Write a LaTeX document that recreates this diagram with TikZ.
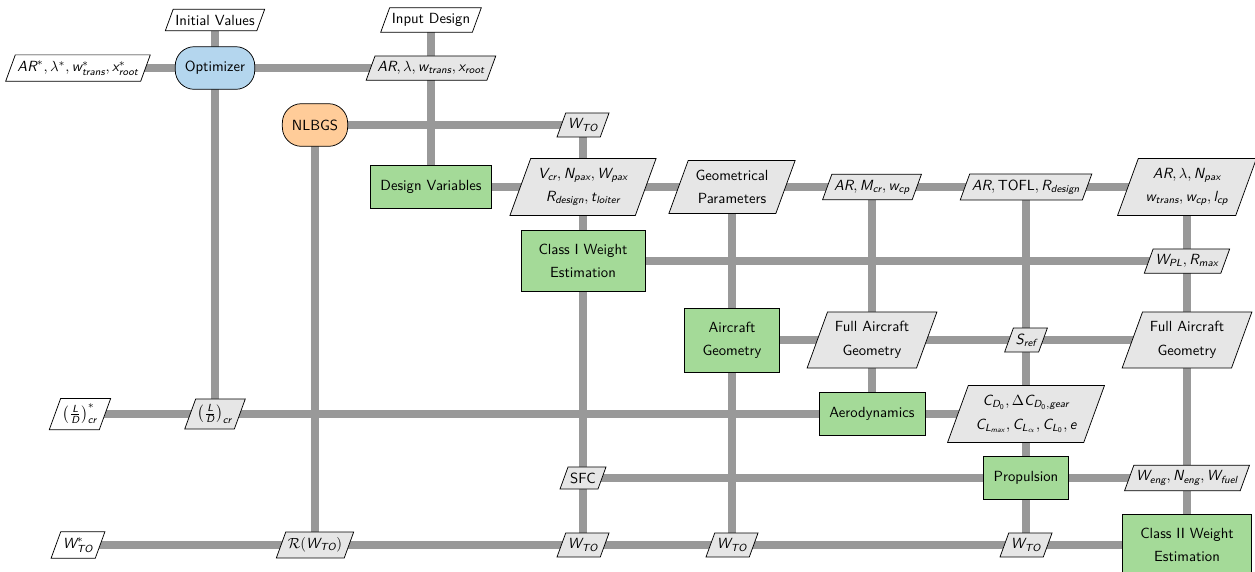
\documentclass[tikz,border=0pt]{standalone}
\usepackage{fontspec}
\usepackage{amsmath}
\usetikzlibrary{shapes.geometric}
\pgfdeclarelayer{background}
\pgfsetlayers{background,main}
\definecolor{optblue}{RGB}{180,214,238}
\definecolor{mdaorange}{RGB}{255,204,153}
\definecolor{fungreen}{RGB}{164,218,152}
\definecolor{datagray}{RGB}{230,230,230}
\definecolor{linegray}{RGB}{153,153,153}
\newcommand\mv[1]{\textit{#1}}
\begin{document}
\begin{tikzpicture}[x=0.68pt,y=-0.68pt,
  base/.style={font=\sffamily\fontsize{10}{15.6}\selectfont, draw=black, line width=0.5pt, align=center},
  optim/.style={base, rectangle, rounded corners=13pt, fill=optblue, minimum height=29pt, inner xsep=6.5pt},
  mda/.style={optim, fill=mdaorange},
  func/.style={base, rectangle, fill=fungreen, minimum height=29pt, inner xsep=7pt, inner ysep=9.5pt},
  ftwo/.style={inner xsep=12pt},
  datain/.style={base, trapezium, trapezium left angle=70, trapezium right angle=110, fill=white, inner xsep=1.5pt, inner ysep=3.8pt},
  dataint/.style={datain, fill=datagray},
  dtwo/.style={inner ysep=6.5pt, inner xsep=5pt, font=\sffamily\fontsize{10}{16}\selectfont},
  dline/.style={draw=linegray, line width=4.8pt}]
\useasboundingbox (0,0) rectangle (1255,571);
% top inputs
\node[datain] (iv) at (215,20) {Initial Values};
\node[datain] (id) at (431,20) {Input Design};
% row 0
\node[datain] (arstar) at (78,68) {$\mv{AR}^*, \lambda^*, \mv{w}^*_{\mv{trans}}, \mv{x}^*_{\mv{root}}$};
\node[optim] (opt) at (215,68) {Optimizer};
\node[dataint] (arlam) at (431,68) {$\mv{AR}, \lambda, \mv{w}_{\mv{trans}}, \mv{x}_{\mv{root}}$};
% row 1
\node[mda] (nlbgs) at (315,125) {NLBGS};
\node[dataint] (wto1) at (583,125) {$\mv{W}_{\mv{TO}}$};
% row 2
\node[func] (dv) at (431,187) {Design Variables};
\node[dataint,dtwo] (vcr) at (583,187) {$\mv{V}_{\mv{cr}}, \mv{N}_{\mv{pax}}, \mv{W}_{\mv{pax}}$\\$\mv{R}_{\mv{design}}, \mv{t}_{\mv{loiter}}$};
\node[dataint,dtwo] (geo) at (732,187) {Geometrical\\Parameters};
\node[dataint] (armcr) at (872,187) {$\mv{AR}, \mv{M}_{\mv{cr}}, \mv{w}_{\mv{cp}}$};
\node[dataint] (artofl) at (1026,187) {$\mv{AR}, \text{TOFL}, \mv{R}_{\mv{design}}$};
\node[dataint,dtwo] (arlnp) at (1187,187) {$\mv{AR}, \lambda, \mv{N}_{\mv{pax}}$\\$\mv{w}_{\mv{trans}}, \mv{w}_{\mv{cp}}, \mv{l}_{\mv{cp}}$};
% row 3
\node[func,ftwo] (cw1) at (583,261) {Class I Weight\\Estimation};
\node[dataint] (wpl) at (1187,261) {$\mv{W}_{\mv{PL}}, \mv{R}_{\mv{max}}$};
% row 4
\node[func,ftwo] (acg) at (732,340) {Aircraft\\Geometry};
\node[dataint,dtwo] (fag1) at (872,340) {Full Aircraft\\Geometry};
\node[dataint] (sref) at (1026,340) {$\mv{S}_{\mv{ref}}$};
\node[dataint,dtwo] (fag2) at (1187,340) {Full Aircraft\\Geometry};
% row 5
\node[datain] (ldstar) at (80,414) {$\left(\frac{\mv{L}}{\mv{D}}\right)^*_{\mv{cr}}$};
\node[dataint] (ldcr) at (215,414) {$\left(\frac{\mv{L}}{\mv{D}}\right)_{\mv{cr}}$};
\node[func] (aero) at (872,414) {Aerodynamics};
\node[dataint,dtwo] (cd0) at (1026,414) {$\mv{C}_{\mv{D}_{\text{0}}}, \Delta \mv{C}_{\mv{D}_{\text{0}},\mv{gear}}$\\$\mv{C}_{\mv{L}_{\mv{max}}}, \mv{C}_{\mv{L}_{\alpha}}, \mv{C}_{\mv{L}_{\text{0}}}, \mv{e}$};
% row 6
\node[dataint] (sfc) at (583,478) {SFC};
\node[func] (prop) at (1026,478) {Propulsion};
\node[dataint] (weng) at (1187,478) {$\mv{W}_{\mv{eng}}, \mv{N}_{\mv{eng}}, \mv{W}_{\mv{fuel}}$};
% row 7
\node[datain] (wstar) at (78,545) {$\mv{W}^*_{\mv{TO}}$};
\node[dataint] (rwto) at (315,545) {$\mathcal{R}(\mv{W}_{\mv{TO}})$};
\node[dataint] (wto4) at (583,545) {$\mv{W}_{\mv{TO}}$};
\node[dataint] (wto5) at (732,545) {$\mv{W}_{\mv{TO}}$};
\node[dataint] (wto7) at (1026,545) {$\mv{W}_{\mv{TO}}$};
\node[func,ftwo] (cw2) at (1187,545) {Class II Weight\\Estimation};
\begin{pgfonlayer}{background}
% horizontal
\draw[dline] (arstar.center) -- (opt.center) -- (arlam.center);
\draw[dline] (nlbgs.center) -- (wto1.center);
\draw[dline] (dv.center) -- (vcr.center) -- (geo.center) -- (armcr.center) -- (artofl.center) -- (arlnp.center);
\draw[dline] (cw1.center) -- (wpl.center);
\draw[dline] (acg.center) -- (fag1.center) -- (sref.center) -- (fag2.center);
\draw[dline] (ldstar.center) -- (ldcr.center) -- (aero.center) -- (cd0.center);
\draw[dline] (sfc.center) -- (prop.center) -- (weng.center);
\draw[dline] (wstar.center) -- (rwto.center) -- (wto4.center) -- (wto5.center) -- (wto7.center) -- (cw2.center);
% vertical
\draw[dline] (iv.center) -- (opt.center) -- (ldcr.center);
\draw[dline] (nlbgs.center) -- (rwto.center);
\draw[dline] (id.center) -- (arlam.center) -- (dv.center);
\draw[dline] (wto1.center) -- (vcr.center) -- (cw1.center) -- (sfc.center) -- (wto4.center);
\draw[dline] (geo.center) -- (acg.center) -- (wto5.center);
\draw[dline] (armcr.center) -- (fag1.center) -- (aero.center);
\draw[dline] (artofl.center) -- (sref.center) -- (cd0.center) -- (prop.center) -- (wto7.center);
\draw[dline] (arlnp.center) -- (wpl.center) -- (fag2.center) -- (weng.center) -- (cw2.center);
\end{pgfonlayer}
\end{tikzpicture}
\end{document}
